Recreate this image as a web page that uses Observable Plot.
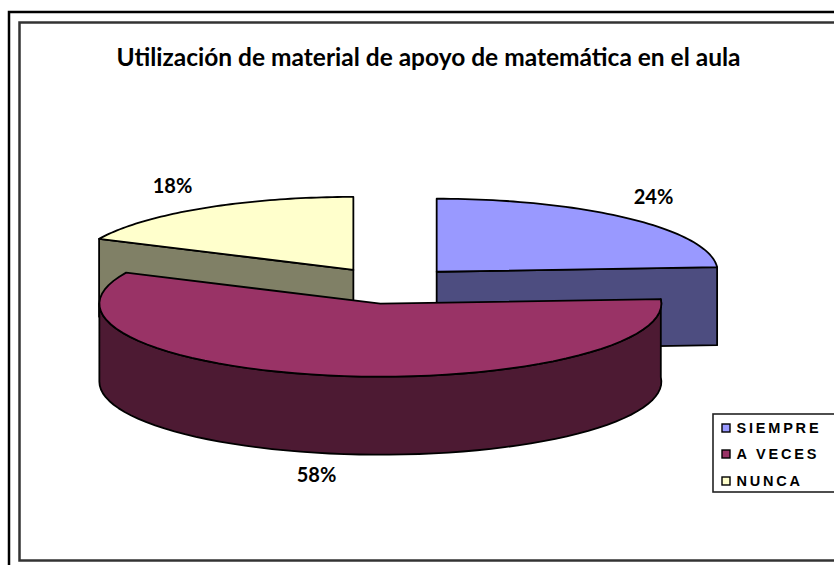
<!DOCTYPE html>
<html><head><meta charset="utf-8">
<script src="https://cdn.jsdelivr.net/npm/d3@7"></script>
<script src="https://cdn.jsdelivr.net/npm/@observablehq/plot@0.6"></script>
<style>html,body{margin:0;padding:0;background:#fff}svg{display:block}</style>
</head><body><div id="chart"></div>
<script>
const title = "Utilización de material de apoyo de matemática en el aula";
const categories = ["SIEMPRE", "A VECES", "NUNCA"];
const values = [24, 58, 18];
const topColors = ["#9999ff", "#993366", "#ffffcc"];
const sideColors = ["#4d4d80", "#4d1a33", "#808066"];

// Layout of the 3-D pie (pixels)
const W = 834, H = 565;
const cx = 390, cy = 285, rx = 281, ry = 73, depth = 78, explode = 0.24;
const nudgeX = [0, 2.5, -1], nudgeY = [-1, 1, -0.8];

// Unit pie space -> pixels via Plot's x/y scales
const xDomain = [(0 - cx) / rx, (W - cx) / rx];
const yDomain = [(cy - 0) / ry, (cy - H) / ry];
const ux = px => (px - cx) / rx;
const uy = py => (cy - py) / ry;
const dz = depth / ry;

const total = d3.sum(values);
let acc = 0;
const slices = categories.map((name, i) => {
  const a0 = acc / total * 2 * Math.PI;
  acc += values[i];
  const a1 = acc / total * 2 * Math.PI;
  const mid = (a0 + a1) / 2;
  return {name, i, value: values[i], a0, a1, mid,
    ox: explode * Math.sin(mid) + nudgeX[i] / rx,
    oy: explode * Math.cos(mid) - nudgeY[i] / ry};
});

const arc = (s, from, to, z = 0) => d3.range(0, 61).map(k => {
  const t = from + (to - from) * k / 60;
  return {x: s.ox + Math.sin(t), y: s.oy + Math.cos(t) - z};
});
const apex = (s, z = 0) => ({x: s.ox, y: s.oy - z});

const polys = [];
function addPoly(arr, fill) { polys.push([...arr, arr[0]].map(p => ({...p, fill}))); }

const [sBlue, sMag, sYel] = slices;
// yellow: cut face then top
{
  const e = arc(sYel, sYel.a0, sYel.a0)[0];
  addPoly([apex(sYel), e, {x: e.x, y: e.y - dz}, apex(sYel, dz)], sideColors[2]);
  addPoly([apex(sYel), ...arc(sYel, sYel.a0, sYel.a1)], topColors[2]);
}
// blue: cut face then top
{
  const e = arc(sBlue, sBlue.a1, sBlue.a1)[0];
  addPoly([apex(sBlue), e, {x: e.x, y: e.y - dz}, apex(sBlue, dz)], sideColors[0]);
  addPoly([apex(sBlue), ...arc(sBlue, sBlue.a0, sBlue.a1)], topColors[0]);
}
// magenta: outer wall then top
{
  const wall = arc(sMag, sMag.a0, 1.5 * Math.PI);
  const low = arc(sMag, sMag.a0, 1.5 * Math.PI, dz).reverse();
  addPoly([...wall, ...low], sideColors[1]);
  addPoly([apex(sMag), ...arc(sMag, sMag.a0, sMag.a1)], topColors[1]);
}

// percent labels, pixel layout
const labelX = [653, 316, 172], labelY = [197, 475, 186];
const labelData = slices.map((s, i) => ({
  text: `${s.value}%`, x: ux(labelX[i]), y: uy(labelY[i])
}));

// Legend
const legendX0 = 713, legendY = [428, 454, 481];
const legendData = slices.map((s, i) => ({
  name: s.name, color: topColors[i],
  x1: ux(legendX0 + 9), x2: ux(legendX0 + 17),
  y1: uy(legendY[i] - 4), y2: uy(legendY[i] + 4),
  tx: ux(legendX0 + 23), ty: uy(legendY[i])
}));

const box = (x0, y0, x1, y1) => ({x1: ux(x0), x2: ux(x1), y1: uy(y0), y2: uy(y1)});
const rectOpts = {x1: "x1", x2: "x2", y1: "y1", y2: "y2"};
const spaced = (i, s, v, d, c, next) => {
  const g = next(i, s, v, d, c);
  g.style.letterSpacing = "2.8px";
  return g;
};

const plot = Plot.plot({
  width: W, height: H,
  margin: 0,
  style: {background: "#fff"},
  x: {domain: xDomain, range: [0, W], axis: null},
  y: {domain: yDomain, range: [0, H], axis: null},
  marks: [
    Plot.rect([box(9, 12, 850, 580)], {...rectOpts, fill: "none", stroke: "#000", strokeWidth: 2.5}),
    Plot.rect([box(19.5, 22.5, 850, 560.5)], {...rectOpts, fill: "#fff", stroke: "#333", strokeWidth: 2.5}),
    Plot.text([title], {x: ux(428), y: uy(58), text: d => d, fontFamily: "Lato", fontWeight: 700, fontSize: 24.5, fill: "#000"}),
    ...polys.map(p => Plot.line(p, {x: "x", y: "y", fill: p[0].fill, stroke: "#000", strokeWidth: 1.8, strokeLinejoin: "round", curve: "linear"})),
    Plot.text(labelData, {x: "x", y: "y", text: "text", fontFamily: "Lato", fontWeight: 700, fontSize: 20, fill: "#000"}),
    Plot.rect([box(legendX0, 414, 850, 492)], {...rectOpts, fill: "#fff", stroke: "#222", strokeWidth: 1.6}),
    Plot.rect(legendData, {...rectOpts, fill: "color", stroke: "#000", strokeWidth: 1.4}),
    Plot.text(legendData, {x: "tx", y: "ty", text: "name", textAnchor: "start", fontFamily: "Liberation Sans", fontWeight: 700, fontSize: 14.5, fill: "#000", render: spaced})
  ]
});
document.getElementById("chart").append(plot);
</script></body></html>
